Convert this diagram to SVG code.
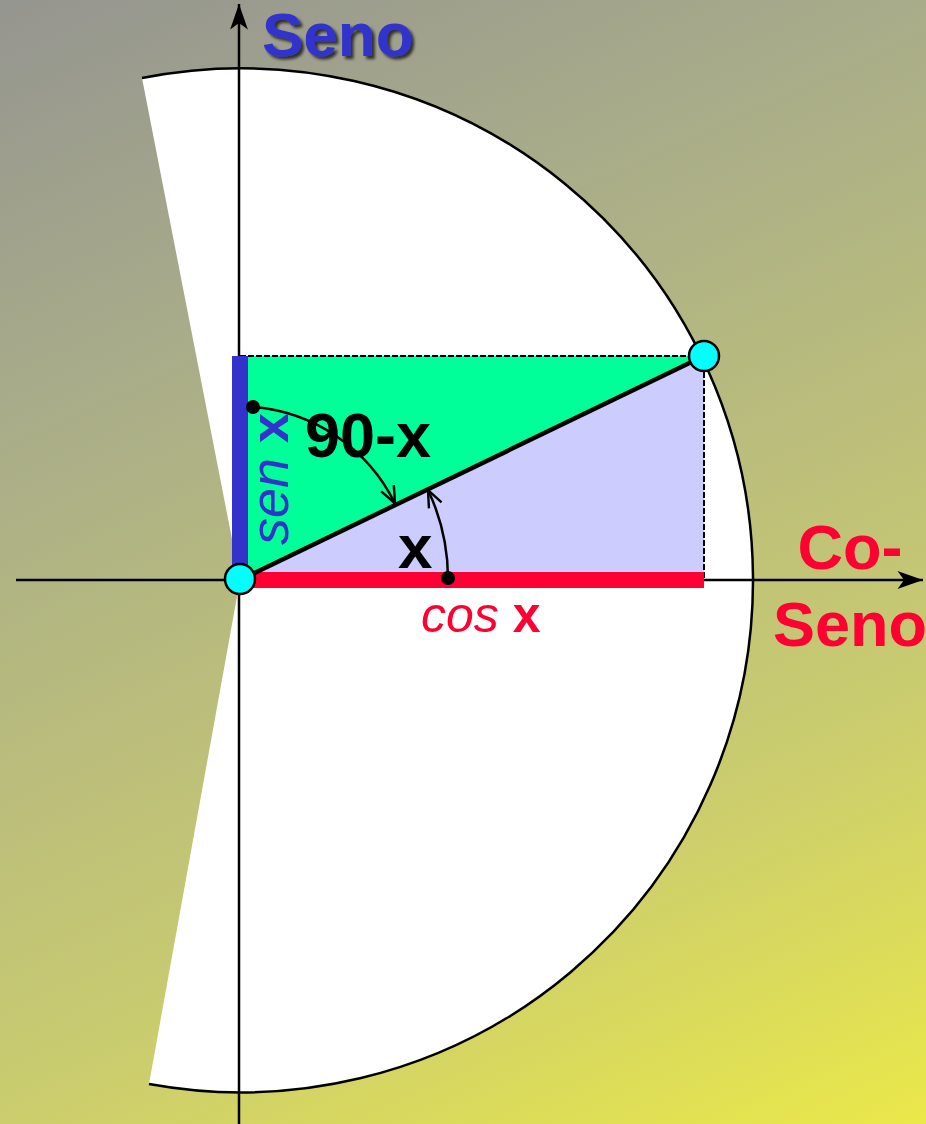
<svg xmlns="http://www.w3.org/2000/svg" width="926" height="1124" viewBox="0 0 926 1124">
  <defs>
    <linearGradient id="bg" gradientUnits="userSpaceOnUse" x1="0" y1="0" x2="575" y2="1277">
      <stop offset="0" stop-color="#959590"/>
      <stop offset="0.28" stop-color="#a9ad89"/>
      <stop offset="0.72" stop-color="#cacc6f"/>
      <stop offset="1" stop-color="#eae84a"/>
    </linearGradient>
    <marker id="axisArrow" markerUnits="userSpaceOnUse" markerWidth="30" markerHeight="20" viewBox="-24 -9 26 18" refX="0" refY="0" orient="auto">
      <path d="M0,0 L-23,-8 L-17,0 L-23,8 Z" fill="#000"/>
    </marker>
    <marker id="vArrow" markerUnits="userSpaceOnUse" markerWidth="24" markerHeight="20" viewBox="-20 -10 22 20" refX="0" refY="0" orient="auto">
      <path d="M-17,-7 L0,0 L-17,7" fill="none" stroke="#000" stroke-width="2.4"/>
    </marker>
    <filter id="shadow" x="-10%" y="-20%" width="130%" height="150%">
      <feDropShadow dx="3" dy="3" stdDeviation="1.5" flood-color="#000" flood-opacity="0.7"/>
    </filter>
  </defs>
  <style>
    .axis { stroke: #000; stroke-width: 2.5; fill: none; }
    .dash { stroke: #000; stroke-width: 2; stroke-dasharray: 6 2; fill: none; }
    .arc { stroke: #000; stroke-width: 2.5; fill: none; }
    .pt { fill: #00ffff; stroke: #000; stroke-width: 2.5; }
    .dot { fill: #000; }
    .bold { font-family: "Liberation Sans", Arial, sans-serif; font-weight: bold; }
    .reg { font-family: "Liberation Sans", Arial, sans-serif; }
  </style>

  <rect x="0" y="0" width="926" height="1124" fill="url(#bg)"/>

  <g id="circle">
    <path d="M240,580 L142,78 A512,512 0 1,1 149,1084 Z" fill="#fff"/>
    <path d="M142,78 A512,512 0 1,1 149,1084" class="arc"/>
  </g>

  <g id="triangle-upper">
    <polygon points="240,356 704,356 240,580" fill="#00ff99"/>
  </g>
  <g id="triangle-lower">
    <polygon points="240,580 704,356 704,580" fill="#ccccff"/>
  </g>

  <g id="connectors">
    <line x1="240" y1="356" x2="704" y2="356" class="dash"/>
    <line x1="704" y1="356" x2="704" y2="580" class="dash"/>
    <line x1="239" y1="1124" x2="239" y2="4" class="axis" marker-end="url(#axisArrow)"/>
    <line x1="16" y1="580" x2="923" y2="580" class="axis" marker-end="url(#axisArrow)"/>
  </g>

  <g id="sen-bar">
    <rect x="232" y="356" width="16" height="224" fill="#3333cc"/>
  </g>
  <g id="cos-bar">
    <rect x="240" y="572" width="464" height="16" fill="#ff0033"/>
  </g>

  <g id="hypotenuse">
    <line x1="240" y1="580" x2="704" y2="356" stroke="#000" stroke-width="4.5"/>
  </g>

  <g id="angle-90-x">
    <path d="M253,407 A173.5,173.5 0 0,1 395,503.5" class="arc" marker-end="url(#vArrow)"/>
    <circle cx="253" cy="407" r="7" class="dot"/>
  </g>
  <g id="angle-x">
    <path d="M448,578 A208,208 0 0,0 428,490" class="arc" marker-end="url(#vArrow)"/>
    <circle cx="448" cy="578" r="7" class="dot"/>
  </g>

  <g id="origin">
    <circle cx="240" cy="579" r="15" class="pt"/>
  </g>
  <g id="point-p">
    <circle cx="704" cy="356" r="15" class="pt"/>
  </g>

  <g id="labels">
    <text x="262" y="56" class="bold" font-size="62" fill="#3333cc" filter="url(#shadow)">Seno</text>
    <text x="850" y="569" class="bold" font-size="63" fill="#ff0033" text-anchor="middle">Co-</text>
    <text x="850" y="646" class="bold" font-size="63" fill="#ff0033" text-anchor="middle">Seno</text>
    <text x="305" y="457" class="bold" font-size="63" fill="#000">90-x</text>
    <text x="398" y="568" class="bold" font-size="62" fill="#000">x</text>
    <text x="421" y="632" font-size="50" fill="#ff0033"><tspan class="reg" font-style="italic">cos</tspan><tspan class="bold"> x</tspan></text>
    <text transform="translate(288,545) rotate(-90)" font-size="54" fill="#3333cc"><tspan class="reg" font-style="italic">sen</tspan><tspan class="bold"> x</tspan></text>
  </g>
</svg>
